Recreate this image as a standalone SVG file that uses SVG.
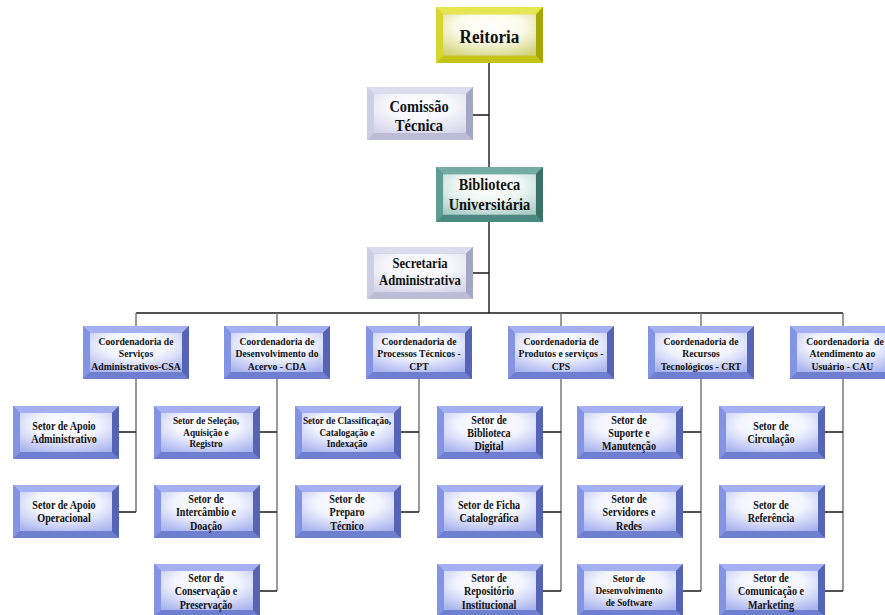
<svg xmlns="http://www.w3.org/2000/svg" xmlns:xlink="http://www.w3.org/1999/xlink" width="885" height="615" viewBox="0 0 885 615">
<style>
.t{font-family:"Liberation Serif","Times New Roman",serif;font-weight:bold;text-anchor:middle;fill:#111}
.s{font-size:11.5px}
.ss{font-size:10.5px}
.c{font-size:11px}
.h{stroke:#1a1a1a;stroke-width:1.4;fill:none}
.v{stroke:#707070;stroke-width:1.4;fill:none}
</style>
<defs>
<radialGradient id="gB" cx="50%" cy="30%" r="80%"><stop offset="0" stop-color="#fff"/><stop offset="0.45" stop-color="#f2f4ff"/><stop offset="1" stop-color="#a9b3ee"/></radialGradient>
<radialGradient id="gY" cx="50%" cy="30%" r="80%"><stop offset="0" stop-color="#fff"/><stop offset="0.45" stop-color="#fbfbea"/><stop offset="1" stop-color="#d2d27a"/></radialGradient>
<radialGradient id="gT" cx="50%" cy="30%" r="80%"><stop offset="0" stop-color="#fff"/><stop offset="0.45" stop-color="#eef6f4"/><stop offset="1" stop-color="#a8ccc4"/></radialGradient>
<radialGradient id="gL" cx="50%" cy="30%" r="80%"><stop offset="0" stop-color="#fff"/><stop offset="0.45" stop-color="#f6f6fc"/><stop offset="1" stop-color="#d6d6ea"/></radialGradient>
<symbol id="bB" viewBox="0 0 106 53" preserveAspectRatio="none">
<rect width="106" height="53" fill="#6f7fd0"/>
<polygon points="0,0 106,0 99,7 7,7" fill="#a4b0f2"/>
<polygon points="0,0 7,7 7,46 0,53" fill="#8494e4"/>
<polygon points="106,0 106,53 99,46 99,7" fill="#5564b4"/>
<rect x="7" y="7" width="92" height="39" fill="url(#gB)"/>
</symbol>
<symbol id="bY" viewBox="0 0 106 53" preserveAspectRatio="none">
<rect width="106" height="53" fill="#c4c418"/>
<polygon points="0,0 106,0 99,7 7,7" fill="#e6e650"/>
<polygon points="0,0 7,7 7,46 0,53" fill="#d6d630"/>
<polygon points="106,0 106,53 99,46 99,7" fill="#a6a600"/>
<rect x="7" y="7" width="92" height="39" fill="url(#gY)"/>
</symbol>
<symbol id="bT" viewBox="0 0 106 53" preserveAspectRatio="none">
<rect width="106" height="53" fill="#4a8a80"/>
<polygon points="0,0 106,0 99,7 7,7" fill="#74aca4"/>
<polygon points="0,0 7,7 7,46 0,53" fill="#5e9c94"/>
<polygon points="106,0 106,53 99,46 99,7" fill="#3a7068"/>
<rect x="7" y="7" width="92" height="39" fill="url(#gT)"/>
</symbol>
<symbol id="bL" viewBox="0 0 106 53" preserveAspectRatio="none">
<rect width="106" height="53" fill="#bcbcd6"/>
<polygon points="0,0 106,0 99,7 7,7" fill="#dcdcee"/>
<polygon points="0,0 7,7 7,46 0,53" fill="#cdcde4"/>
<polygon points="106,0 106,53 99,46 99,7" fill="#a4a4c4"/>
<rect x="7" y="7" width="92" height="39" fill="url(#gL)"/>
</symbol>
</defs>
<rect width="885" height="615" fill="#fff"/>
<g id="connectors">
<path class="h" d="M489,63V313M473,115H489M473,273H489M136,313H843"/>
<path class="v" d="M136,313V326M277,313V326M419,313V326M561,313V326M701,313V326M843,313V326"/>
<path class="v" d="M136,379V512M277,379V591M419,379V512M561,379V591M701,379V591M843,379V591"/>
<path class="h" d="M119,432H136M119,512H136M260,432H277M260,512H277M260,591H277M401,432H419M401,512H419M543,432H561M543,512H561M543,591H561M683,432H701M683,512H701M683,591H701M825,432H843M825,512H843M825,591H843"/>
</g>
<g id="reitoria"><use xlink:href="#bY" href="#bY" x="436" y="7" width="107" height="56"/>
<text class="t" font-size="19" transform="translate(489.5 0) scale(0.9 1)"><tspan x="0" y="43">Reitoria</tspan></text></g>
<g id="comissao"><use xlink:href="#bL" href="#bL" x="367" y="87" width="106" height="53"/>
<text class="t" font-size="16" transform="translate(419 0) scale(0.9 1)"><tspan x="0" y="112">Comissão</tspan><tspan x="0" y="131">Técnica</tspan></text></g>
<g id="biblioteca"><use xlink:href="#bT" href="#bT" x="436" y="167" width="107" height="55"/>
<text class="t" font-size="16" transform="translate(489.5 0) scale(0.9 1)"><tspan x="0" y="190">Biblioteca</tspan><tspan x="0" y="210">Universitária</tspan></text></g>
<g id="secretaria"><use xlink:href="#bL" href="#bL" x="367" y="247" width="106" height="52"/>
<text class="t" font-size="14" transform="translate(420 0) scale(0.9 1)"><tspan x="0" y="268.5">Secretaria</tspan><tspan x="0" y="285.5">Administrativa</tspan></text></g>

<g id="csa"><use xlink:href="#bB" href="#bB" x="83" y="326" width="106" height="53"/>
<text class="t c" transform="translate(136 0) scale(0.88 1)"><tspan x="0" y="345">Coordenadoria de</tspan><tspan x="0" y="357.5">Serviços</tspan><tspan x="0" y="370">Administrativos-CSA</tspan></text></g>
<g id="cda"><use xlink:href="#bB" href="#bB" x="224" y="326" width="106" height="53"/>
<text class="t c" transform="translate(277 0) scale(0.88 1)"><tspan x="0" y="345">Coordenadoria de</tspan><tspan x="0" y="357.5">Desenvolvimento do</tspan><tspan x="0" y="370">Acervo - CDA</tspan></text></g>
<g id="cpt"><use xlink:href="#bB" href="#bB" x="366" y="326" width="106" height="53"/>
<text class="t c" transform="translate(419 0) scale(0.88 1)"><tspan x="0" y="345">Coordenadoria de</tspan><tspan x="0" y="357.5">Processos Técnicos -</tspan><tspan x="0" y="370">CPT</tspan></text></g>
<g id="cps"><use xlink:href="#bB" href="#bB" x="508" y="326" width="106" height="53"/>
<text class="t c" transform="translate(561 0) scale(0.88 1)"><tspan x="0" y="345">Coordenadoria de</tspan><tspan x="0" y="357.5">Produtos e serviços -</tspan><tspan x="0" y="370">CPS</tspan></text></g>
<g id="crt"><use xlink:href="#bB" href="#bB" x="648" y="326" width="106" height="53"/>
<text class="t c" transform="translate(701 0) scale(0.88 1)"><tspan x="0" y="345">Coordenadoria de</tspan><tspan x="0" y="357.5">Recursos</tspan><tspan x="0" y="370">Tecnológicos - CRT</tspan></text></g>
<g id="cau"><use xlink:href="#bB" href="#bB" x="790" y="326" width="106" height="53"/>
<text class="t c" xml:space="preserve" transform="translate(845 0) scale(0.88 1)"><tspan x="0" y="345">Coordenadoria  de</tspan><tspan x="-3" y="357.5">Atendimento ao</tspan><tspan x="-3" y="370">Usuário - CAU</tspan></text></g>

<g id="s-apoio-adm"><use xlink:href="#bB" href="#bB" x="13" y="406" width="106" height="53"/>
<text class="t s" transform="translate(64 0) scale(0.88 1)"><tspan x="0" y="430">Setor de Apoio</tspan><tspan x="0" y="443">Administrativo</tspan></text></g>
<g id="s-apoio-op"><use xlink:href="#bB" href="#bB" x="13" y="485" width="106" height="53"/>
<text class="t s" transform="translate(64 0) scale(0.88 1)"><tspan x="0" y="509">Setor de Apoio</tspan><tspan x="0" y="522">Operacional</tspan></text></g>

<g id="s-selecao"><use xlink:href="#bB" href="#bB" x="154" y="406" width="106" height="53"/>
<text class="t ss" transform="translate(206 0) scale(0.88 1)"><tspan x="0" y="424.5">Setor de Seleção,</tspan><tspan x="0" y="436">Aquisição e</tspan><tspan x="0" y="447.5">Registro</tspan></text></g>
<g id="s-intercambio"><use xlink:href="#bB" href="#bB" x="154" y="485" width="106" height="53"/>
<text class="t s" transform="translate(206 0) scale(0.88 1)"><tspan x="0" y="503">Setor de</tspan><tspan x="0" y="516.5">Intercâmbio e</tspan><tspan x="0" y="530">Doação</tspan></text></g>
<g id="s-conservacao"><use xlink:href="#bB" href="#bB" x="154" y="564" width="106" height="53"/>
<text class="t s" transform="translate(206 0) scale(0.88 1)"><tspan x="0" y="582">Setor de</tspan><tspan x="0" y="595.5">Conservação e</tspan><tspan x="0" y="609">Preservação</tspan></text></g>

<g id="s-classificacao"><use xlink:href="#bB" href="#bB" x="295" y="406" width="106" height="53"/>
<text class="t ss" transform="translate(347 0) scale(0.88 1)"><tspan x="0" y="424.5">Setor de Classificação,</tspan><tspan x="0" y="436">Catalogação e</tspan><tspan x="0" y="447.5">Indexação</tspan></text></g>
<g id="s-preparo"><use xlink:href="#bB" href="#bB" x="295" y="485" width="106" height="53"/>
<text class="t s" transform="translate(347 0) scale(0.88 1)"><tspan x="0" y="503">Setor de</tspan><tspan x="0" y="516.5">Preparo</tspan><tspan x="0" y="530">Técnico</tspan></text></g>

<g id="s-digital"><use xlink:href="#bB" href="#bB" x="437" y="406" width="106" height="53"/>
<text class="t s" transform="translate(489 0) scale(0.88 1)"><tspan x="0" y="424">Setor de</tspan><tspan x="0" y="437">Biblioteca</tspan><tspan x="0" y="450">Digital</tspan></text></g>
<g id="s-ficha"><use xlink:href="#bB" href="#bB" x="437" y="485" width="106" height="53"/>
<text class="t s" transform="translate(489 0) scale(0.88 1)"><tspan x="0" y="509">Setor de Ficha</tspan><tspan x="0" y="522">Catalográfica</tspan></text></g>
<g id="s-repositorio"><use xlink:href="#bB" href="#bB" x="437" y="564" width="106" height="53"/>
<text class="t s" transform="translate(489 0) scale(0.88 1)"><tspan x="0" y="582">Setor de</tspan><tspan x="0" y="595.5">Repositório</tspan><tspan x="0" y="609">Institucional</tspan></text></g>

<g id="s-suporte"><use xlink:href="#bB" href="#bB" x="577" y="406" width="106" height="53"/>
<text class="t s" transform="translate(629 0) scale(0.88 1)"><tspan x="0" y="424">Setor de</tspan><tspan x="0" y="437">Suporte e</tspan><tspan x="0" y="450">Manutenção</tspan></text></g>
<g id="s-servidores"><use xlink:href="#bB" href="#bB" x="577" y="485" width="106" height="53"/>
<text class="t s" transform="translate(629 0) scale(0.88 1)"><tspan x="0" y="503">Setor de</tspan><tspan x="0" y="516.5">Servidores e</tspan><tspan x="0" y="530">Redes</tspan></text></g>
<g id="s-software"><use xlink:href="#bB" href="#bB" x="577" y="564" width="106" height="53"/>
<text class="t ss" transform="translate(629 0) scale(0.88 1)"><tspan x="0" y="582.5">Setor de</tspan><tspan x="0" y="594.5">Desenvolvimento</tspan><tspan x="0" y="606.5">de Software</tspan></text></g>

<g id="s-circulacao"><use xlink:href="#bB" href="#bB" x="719" y="406" width="106" height="53"/>
<text class="t s" transform="translate(771 0) scale(0.88 1)"><tspan x="0" y="430">Setor de</tspan><tspan x="0" y="443">Circulação</tspan></text></g>
<g id="s-referencia"><use xlink:href="#bB" href="#bB" x="719" y="485" width="106" height="53"/>
<text class="t s" transform="translate(771 0) scale(0.88 1)"><tspan x="0" y="509">Setor de</tspan><tspan x="0" y="522">Referência</tspan></text></g>
<g id="s-comunicacao"><use xlink:href="#bB" href="#bB" x="719" y="564" width="106" height="53"/>
<text class="t s" transform="translate(771 0) scale(0.88 1)"><tspan x="0" y="582">Setor de</tspan><tspan x="0" y="595.5">Comunicação e</tspan><tspan x="0" y="609">Marketing</tspan></text></g>
</svg>
